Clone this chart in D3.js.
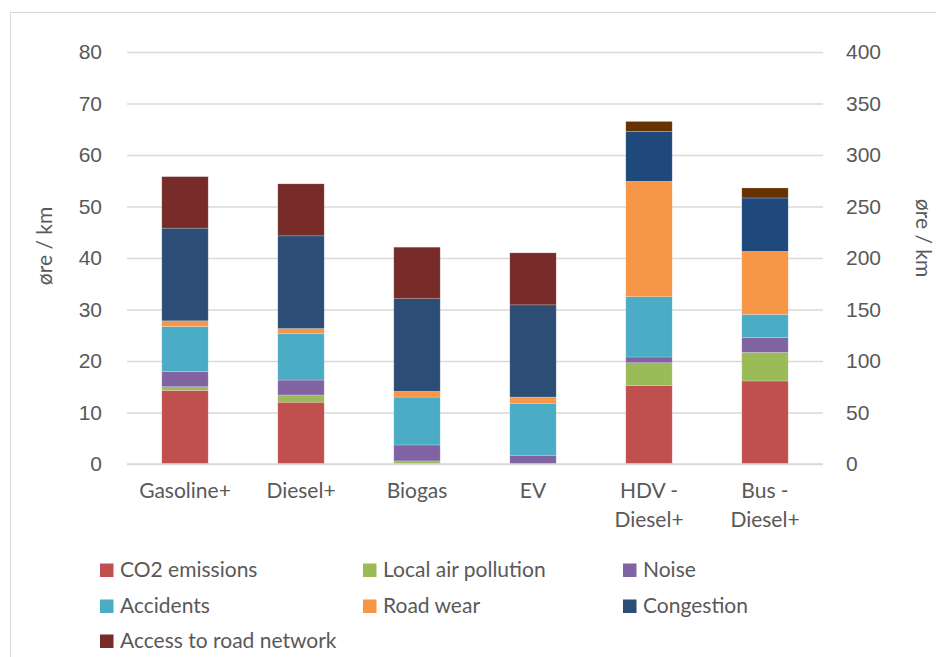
<!DOCTYPE html>
<html>
<head>
<meta charset="utf-8">
<script src="https://cdn.jsdelivr.net/npm/d3@7"></script>
<style>
  html, body { margin: 0; padding: 0; background: #fff; }
  svg { display: block; font-family: Lato, "Open Sans", sans-serif; }
</style>
</head>
<body>
<svg id="chart" width="936" height="657"></svg>
<script>
// ---- Data ----
const categories = ["Gasoline+", "Diesel+", "Biogas", "EV", "HDV - Diesel+", "Bus - Diesel+"];
const categoryLines = [["Gasoline+"], ["Diesel+"], ["Biogas"], ["EV"], ["HDV -", "Diesel+"], ["Bus -", "Diesel+"]];
// which value axis each category is plotted against
const axisOf = ["left", "left", "left", "left", "right", "right"];

const seriesNames = ["CO2 emissions", "Local air pollution", "Noise", "Accidents", "Road wear", "Congestion", "Access to road network"];
const co2        = [14.3, 12.0, 0.0, 0.0, 76.3, 80.6];
const localAir   = [0.7, 1.4, 0.6, 0.0, 22.0, 27.7];
const noise      = [3.0, 2.9, 3.1, 1.7, 5.6, 14.6];
const accidents  = [8.7, 9.0, 9.3, 10.1, 58.5, 22.3];
const roadWear   = [1.1, 1.0, 1.1, 1.2, 112.0, 61.2];
const congestion = [18.0, 18.0, 18.0, 17.9, 48.5, 51.9];
const access     = [10.0, 10.1, 10.0, 10.1, 9.7, 9.7];

const leftTicks = [0, 10, 20, 30, 40, 50, 60, 70, 80];
const rightTicks = [0, 50, 100, 150, 200, 250, 300, 350, 400];
const axisTitle = "øre / km";

const colorsPrimary   = ["#C0504D", "#9BBB59", "#8064A2", "#4BACC6", "#F79646", "#2C4D75", "#772C2A"];
const colorsSecondary = ["#C0504D", "#9BBB59", "#8064A2", "#4BACC6", "#F79646", "#1F497D", "#663300"];

// ---- Build table ----
const seriesValues = [co2, localAir, noise, accidents, roadWear, congestion, access];
const table = categories.map((c, i) => {
  const row = { category: c, axis: axisOf[i] };
  seriesNames.forEach((s, j) => { row[s] = seriesValues[j][i]; });
  return row;
});

const svg = d3.select("#chart");
const textColor = "#595959";

// chart border
svg.append("rect").attr("x", 10.5).attr("y", 12.5).attr("width", 940).attr("height", 660)
  .attr("fill", "none").attr("stroke", "#D9D9D9").attr("stroke-width", 1);

const plot = { left: 127, right: 823, top: 52, bottom: 464 };

const x = d3.scaleBand().domain(categories).range([plot.left, plot.right])
  .paddingInner(0.6).paddingOuter(0.3);
const yL = d3.scaleLinear().domain([0, 80]).range([plot.bottom, plot.top]);
const yR = d3.scaleLinear().domain([0, 400]).range([plot.bottom, plot.top]);

// gridlines
const grid = svg.append("g")
  .attr("transform", `translate(${plot.left},0)`)
  .call(d3.axisLeft(yL).tickValues(leftTicks).tickSize(-(plot.right - plot.left)).tickFormat(""));
grid.select(".domain").remove();
grid.selectAll("line").attr("stroke", "#D9D9D9").attr("stroke-width", 1.5);

// left axis labels
const axL = svg.append("g")
  .attr("transform", `translate(${plot.left},0)`)
  .call(d3.axisLeft(yL).tickValues(leftTicks).tickSize(0).tickPadding(25));
axL.select(".domain").remove();
axL.selectAll("text").attr("fill", textColor).style("font-size", "21px");

// right axis labels
const axR = svg.append("g")
  .attr("transform", `translate(${plot.right},0)`)
  .call(d3.axisRight(yR).tickValues(rightTicks).tickSize(0).tickPadding(23));
axR.select(".domain").remove();
axR.selectAll("text").attr("fill", textColor).style("font-size", "21px");

// stacked bars
const stack = d3.stack().keys(seriesNames);
const stacked = stack(table);
const barsG = svg.append("g");
stacked.forEach((layer, j) => {
  barsG.selectAll(null).data(layer).enter().append("rect")
    .attr("x", d => x(d.data.category))
    .attr("width", x.bandwidth())
    .attr("y", d => (d.data.axis === "left" ? yL : yR)(d[1]))
    .attr("height", d => {
      const s = d.data.axis === "left" ? yL : yR;
      return Math.max(0, s(d[0]) - s(d[1]));
    })
    .attr("fill", d => d.data.axis === "left" ? colorsPrimary[j] : colorsSecondary[j])
    .attr("stroke", "#ffffff").attr("stroke-opacity", 0.35).attr("stroke-width", 0.6);
});

// baseline
svg.append("line").attr("x1", plot.left).attr("x2", plot.right)
  .attr("y1", yL(0)).attr("y2", yL(0)).attr("stroke", "#D9D9D9").attr("stroke-width", 1.5);

// category labels
const catG = svg.append("g");
categories.forEach((c, i) => {
  const t = catG.append("text")
    .attr("x", x(c) + x.bandwidth() / 2)
    .attr("y", 498)
    .attr("text-anchor", "middle")
    .attr("fill", textColor)
    .style("font-size", "21px");
  categoryLines[i].forEach((ln, k) => {
    t.append("tspan").attr("x", x(c) + x.bandwidth() / 2).attr("dy", k === 0 ? 0 : 29).text(ln);
  });
});

// axis titles
svg.append("text")
  .attr("transform", `translate(52,246) rotate(-90)`)
  .attr("text-anchor", "middle").attr("fill", textColor).style("font-size", "21px")
  .text(axisTitle);
svg.append("text")
  .attr("transform", `translate(916,238) rotate(90)`)
  .attr("text-anchor", "middle").attr("fill", textColor).style("font-size", "21px")
  .text(axisTitle);

// legend
const legendCols = [100, 363, 623];
const legendRows = [570, 606, 641];
const legG = svg.append("g");
seriesNames.forEach((s, j) => {
  const cx = legendCols[j % 3];
  const cy = legendRows[Math.floor(j / 3)];
  legG.append("rect").attr("x", cx).attr("y", cy - 6.5).attr("width", 13.5).attr("height", 13.5)
    .attr("fill", colorsPrimary[j]);
  legG.append("text").attr("x", cx + 20).attr("y", cy).attr("dy", "0.35em")
    .attr("fill", textColor).style("font-size", "21px").text(s);
});
</script>
</body>
</html>
